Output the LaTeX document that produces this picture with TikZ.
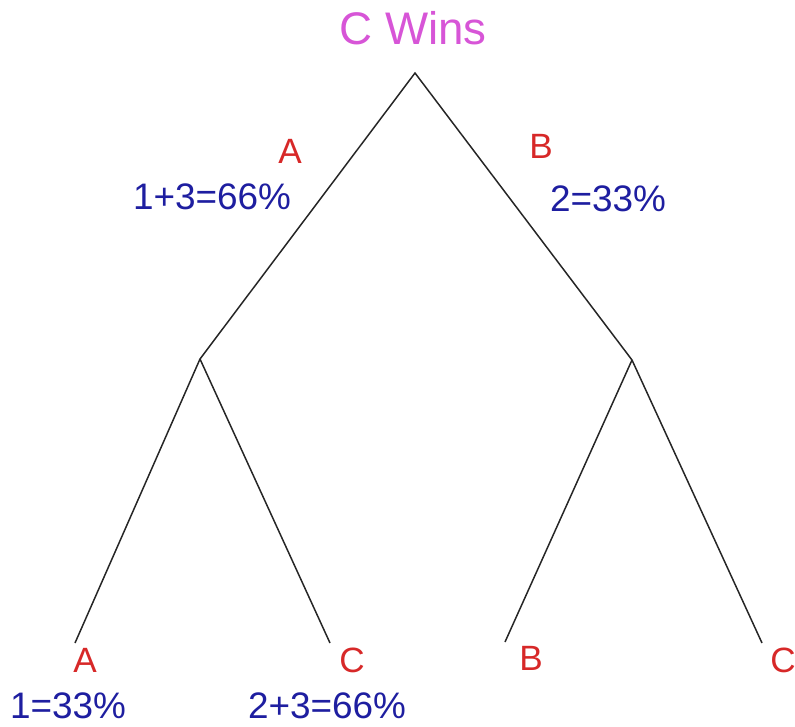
\documentclass[tikz,border=0pt]{standalone}
\usepackage{fontspec}
\setmainfont{Liberation Sans}
\usepackage{xcolor}
\usetikzlibrary{positioning}

\definecolor{winpink}{RGB}{215,85,215}
\definecolor{pickred}{RGB}{215,40,40}
\definecolor{probblue}{RGB}{30,30,160}

\begin{document}
\begin{tikzpicture}[x=0.02cm,y=-0.02cm,
    title/.style={text=winpink,font=\fontsize{26}{30}\selectfont,inner sep=0pt},
    pick/.style={text=pickred,font=\fontsize{20}{24}\selectfont,inner sep=0pt},
    prob/.style={text=probblue,font=\fontsize{21}{25}\selectfont,inner sep=0pt},
    branch/.style={draw=black!85,line width=0.85pt}]
\useasboundingbox (0,0) rectangle (795,727);
% tree points
\coordinate (root) at (415,73);
\coordinate (splitA) at (200,359);
\coordinate (splitB) at (632,360);
\coordinate (leafAA) at (75,643);
\coordinate (leafAC) at (330,643);
\coordinate (leafBB) at (505,642);
\coordinate (leafBC) at (762,643);
\draw[branch] (leafAA) -- (splitA) -- (root) -- (splitB) -- (leafBC);
\draw[branch] (splitA) -- (leafAC);
\draw[branch] (splitB) -- (leafBB);
% labels
\node[title] (wins) at (413,28) {C Wins};
\node[pick] (pickA) at (290,151) {A};
\node[prob] (probA) at (212,197) {1+3=66\%};
\node[pick] (pickB) at (541,146) {B};
\node[prob] (probB) at (608,199) {2=33\%};
\node[pick] (pickAA) at (85,660) {A};
\node[prob] (probAA) at (68,706) {1=33\%};
\node[pick] (pickAC) at (352,660) {C};
\node[prob] (probAC) at (327,706) {2+3=66\%};
\node[pick] (pickBB) at (531,658) {B};
\node[pick] (pickBC) at (783,660) {C};
\end{tikzpicture}
\end{document}
